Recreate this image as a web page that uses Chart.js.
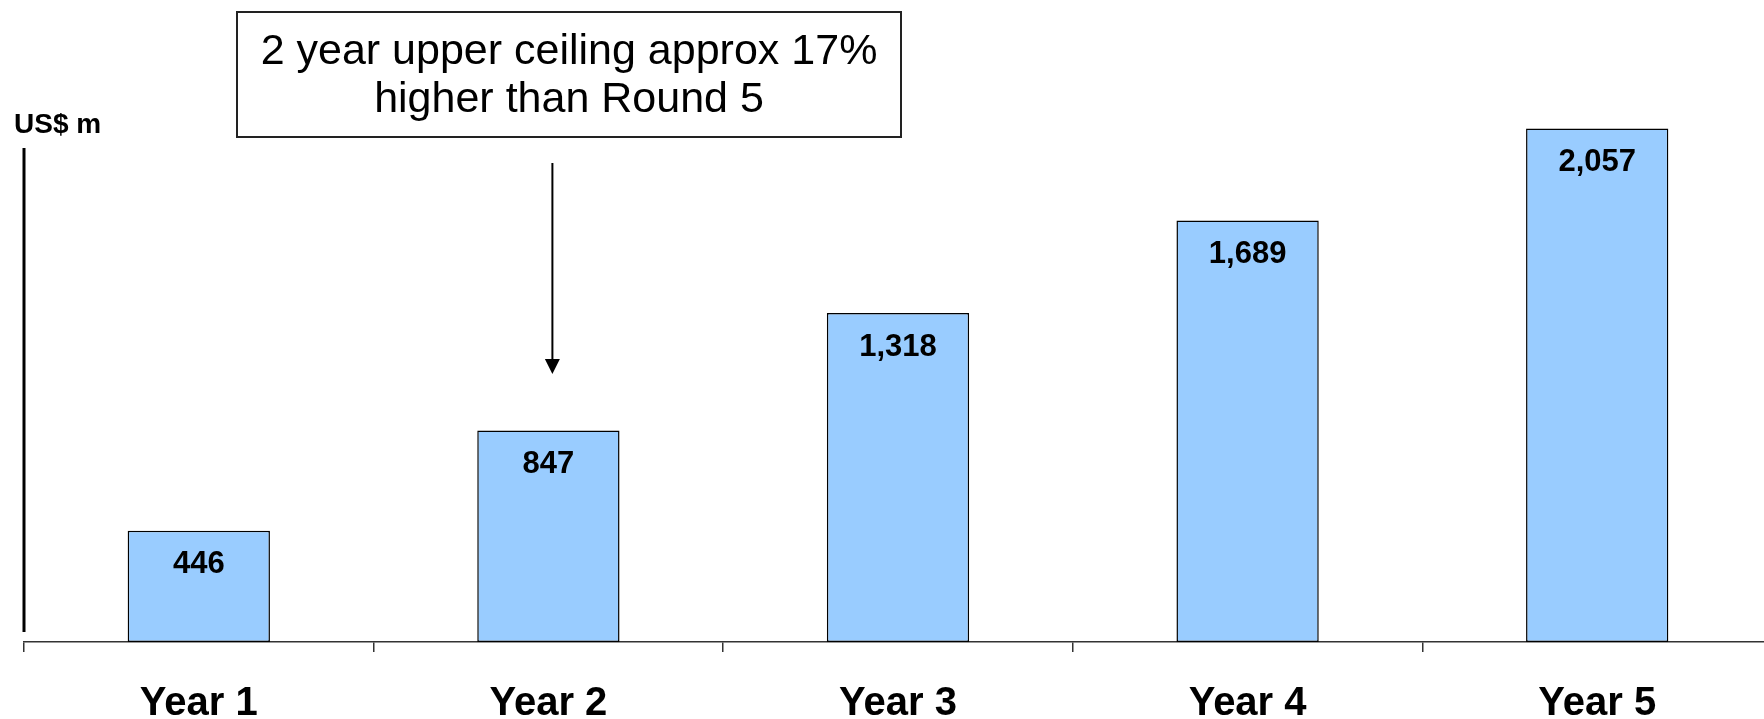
<!DOCTYPE html>
<html>
<head>
<meta charset="utf-8">
<title>US$ m by year</title>
<script src="https://cdn.jsdelivr.net/npm/chart.js@4.4.1/dist/chart.umd.min.js"></script>
<style>
  html, body { margin: 0; padding: 0; background: #fff; overflow: hidden; }
  #chart { display: block; }
</style>
</head>
<body>
<canvas id="chart" width="1772" height="719"></canvas>
<script>
const years = ['Year 1', 'Year 2', 'Year 3', 'Year 4', 'Year 5'];
const ceilingValues = [446, 847, 1318, 1689, 2057];
const unitLabel = 'US$ m';
const noteLines = ['2 year upper ceiling approx 17%', 'higher than Round 5'];
const noteYear = 1;

const fontFamily = '"Liberation Sans", Arial, Helvetica, sans-serif';

// axis line on the left, unit label, value labels and the note with its arrow
const decorations = {
    id: 'decorations',
    afterDatasetsDraw(chart) {
        const ctx = chart.ctx;
        const area = chart.chartArea;
        const xScale = chart.scales.x;
        ctx.save();

        // short vertical axis line
        ctx.strokeStyle = '#000';
        ctx.lineWidth = 3;
        ctx.beginPath();
        ctx.moveTo(area.left, 148);
        ctx.lineTo(area.left, area.bottom - 10);
        ctx.stroke();

        // unit label
        ctx.fillStyle = '#000';
        ctx.font = 'bold 28px ' + fontFamily;
        ctx.textAlign = 'left';
        ctx.textBaseline = 'alphabetic';
        ctx.fillText(unitLabel, 14, 133);

        // values inside each bar, near the top
        ctx.font = 'bold 31px ' + fontFamily;
        ctx.textAlign = 'center';
        ctx.textBaseline = 'middle';
        chart.getDatasetMeta(0).data.forEach((bar, i) => {
            ctx.fillText(ceilingValues[i].toLocaleString('en-US'), bar.x, bar.y + 34);
        });

        // note box
        const boxLeft = 237, boxTop = 12, boxWidth = 664, boxHeight = 125;
        ctx.fillStyle = '#fff';
        ctx.fillRect(boxLeft, boxTop, boxWidth, boxHeight);
        ctx.strokeStyle = '#222';
        ctx.lineWidth = 2;
        ctx.strokeRect(boxLeft, boxTop, boxWidth, boxHeight);
        ctx.fillStyle = '#000';
        ctx.font = '43px ' + fontFamily;
        ctx.textBaseline = 'alphabetic';
        const cx = boxLeft + boxWidth / 2;
        ctx.fillText(noteLines[0], cx, 64);
        ctx.fillText(noteLines[1], cx, 112);

        // arrow pointing down at the Year 2 bar
        const ax = xScale.getPixelForValue(noteYear) + 4;
        const tip = 374;
        ctx.strokeStyle = '#000';
        ctx.lineWidth = 2;
        ctx.beginPath();
        ctx.moveTo(ax, 163);
        ctx.lineTo(ax, tip - 12);
        ctx.stroke();
        ctx.beginPath();
        ctx.moveTo(ax - 7.5, tip - 15);
        ctx.lineTo(ax + 7.5, tip - 15);
        ctx.lineTo(ax, tip);
        ctx.closePath();
        ctx.fill();

        ctx.restore();
    }
};

const graph = document.querySelector('#chart');

const config_bar = {
    type: 'bar',
    data: {
        labels: years,
        datasets: [
            {
                data: ceilingValues,
                backgroundColor: '#99CCFF',
                borderColor: '#000',
                borderWidth: 1.5,
                borderSkipped: false,
                categoryPercentage: 1,
                barPercentage: 0.407
            }
        ]
    },
    options: {
        responsive: false,
        animation: false,
        layout: {
            padding: { left: 24, top: 43, right: 0, bottom: 0 }
        },
        plugins: {
            legend: { display: false },
            tooltip: { enabled: false }
        },
        scales: {
            x: {
                afterFit(scale) { scale.height = 77; },
                border: { display: true, color: '#333', width: 1.5 },
                grid: {
                    offset: true,
                    drawOnChartArea: false,
                    drawTicks: true,
                    tickLength: 10,
                    color: '#333',
                    lineWidth: 1.5
                },
                ticks: {
                    color: '#000',
                    padding: 28,
                    font: { family: fontFamily, size: 40, weight: 'bold' }
                }
            },
            y: {
                display: false,
                min: 0,
                max: 2400
            }
        }
    },
    plugins: [decorations]
};

const myBarChart = new Chart(graph, config_bar);
</script>
</body>
</html>
